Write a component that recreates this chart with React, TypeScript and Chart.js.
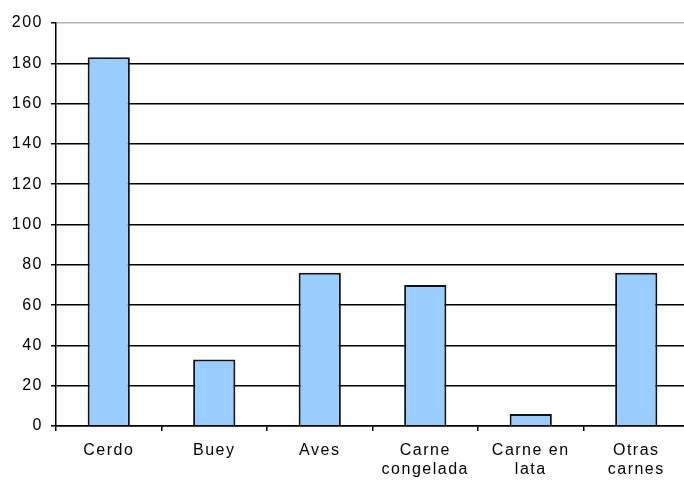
import React, { useEffect, useRef } from "react";
import { Chart, registerables } from "chart.js";

Chart.register(...registerables);

// Meat categories (multi-line labels) and their values
const categories: (string | string[])[] = [
  "Cerdo",
  "Buey",
  "Aves",
  ["Carne", "congelada"],
  ["Carne en", "lata"],
  ["Otras", "carnes"],
];
const values: number[] = [183, 33, 76, 70, 6, 76];

// Value axis
const yMin = 0;
const yMax = 200;
const yStep = 20;

const FONT = "'Liberation Sans', Arial, sans-serif";

// Widen glyph spacing for all text drawn on the canvas
const letterSpacingPlugin = {
  id: "letterSpacing",
  beforeDraw(chart: Chart) {
    (chart.ctx as any).letterSpacing = "1.5px";
  },
};

export default function App() {
  const canvasRef = useRef<HTMLCanvasElement | null>(null);

  useEffect(() => {
    document.body.style.margin = "0";
    const canvas = canvasRef.current;
    if (!canvas) return;
    const chart = new Chart(canvas, {
      type: "bar",
      data: {
        labels: categories,
        datasets: [
          {
            data: values,
            backgroundColor: "#99CCFF",
            borderColor: "#111111",
            borderWidth: 2,
            categoryPercentage: 0.8,
            barPercentage: 0.5,
          },
        ],
      },
      options: {
        responsive: false,
        animation: false,
        devicePixelRatio: 1,
        layout: { padding: { top: 23, right: 1, left: 0, bottom: 0 } },
        plugins: {
          legend: { display: false },
          tooltip: { enabled: false },
        },
        scales: {
          x: {
            grid: {
              offset: true,
              drawOnChartArea: false,
              drawTicks: true,
              tickLength: 5,
              color: "#000000",
              lineWidth: 1.5,
            },
            border: { color: "#000000", width: 1.5 },
            ticks: {
              color: "#000000",
              font: { family: FONT, size: 16, lineHeight: 1.2 },
              padding: 10,
              maxRotation: 0,
              autoSkip: false,
            },
            afterFit(scale: any) {
              scale.height = 60;
            },
          },
          y: {
            min: yMin,
            max: yMax,
            grid: {
              color: (ctx: any) => (ctx.tick && ctx.tick.value === yMax ? "#b4b4b4" : "#000000"),
              lineWidth: 1.5,
              tickLength: 5,
              tickColor: "#000000",
            },
            border: { color: "#000000", width: 1.5 },
            ticks: {
              stepSize: yStep,
              color: "#000000",
              font: { family: FONT, size: 16 },
              padding: 8,
            },
            afterFit(scale: any) {
              scale.width = 56;
            },
          },
        },
      },
      plugins: [letterSpacingPlugin],
    });
    return () => chart.destroy();
  }, []);

  return (
    <div
      style={{
        position: "absolute",
        left: 0,
        top: 0,
        width: 684,
        height: 486,
        overflow: "hidden",
        background: "#ffffff",
      }}
    >
      <canvas ref={canvasRef} width={690} height={486} style={{ display: "block" }} />
    </div>
  );
}
